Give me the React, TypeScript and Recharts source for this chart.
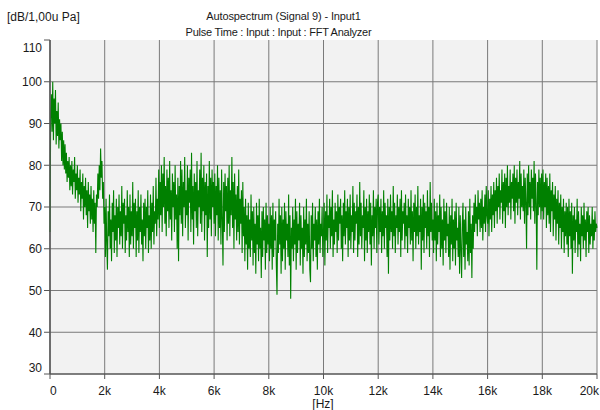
import { LineChart, Line, XAxis, YAxis, CartesianGrid } from "recharts";

// autospectrum levels in dB, one sample every 25 Hz, split per 2 kHz band
const FREQ_STEP = 25;

const band0to2k = [
  64, 92, 97, 88, 100, 86, 96, 90, 98, 85, 93, 87, 95, 84, 91, 86, 90,
  81, 88, 80, 86, 79, 85, 78,
  83, 76, 81, 77, 82, 74, 80, 75, 81, 73, 79, 76, 82, 72, 78, 74,
  80, 71, 77, 73, 79, 69, 76, 72, 78, 67, 75, 70, 77, 68, 74, 65, 76, 69, 73, 66,
  75, 67, 72, 64, 74, 66, 71, 59,
  73, 70, 78, 72, 80, 74, 84, 77,
  81, 72, 76, 66,
];
const band2to4k = [
  70, 58, 72, 61, 55, 69, 63, 73, 60, 67, 57, 71, 64, 74, 59, 68, 62, 72, 58, 70,
  65, 73, 61, 69, 63, 75, 60, 71, 66, 72, 59, 68, 62, 74, 64, 70, 58, 73, 61, 69,
  63, 76, 60, 71, 65, 72, 58, 69, 62, 74, 59, 70, 64, 73, 61, 67, 57, 71, 63, 72,
  60, 70, 65, 74, 59, 68, 62, 73, 60, 71, 64, 75, 61, 69, 66, 77, 63, 72, 67, 79,
];
const band4to6k = [
  65, 76, 68, 80, 64, 78, 70, 82, 66, 75, 63, 79, 69, 77, 65, 81, 67, 74, 62, 78,
  70, 76, 64, 80, 67, 73, 60, 77, 57, 75, 68, 81, 66, 79, 63, 76, 70, 82, 65, 74,
  68, 80, 62, 77, 71, 79, 64, 83, 67, 75, 61, 78, 69, 76, 65, 81, 63, 74, 70, 79,
  66, 83, 64, 77, 69, 80, 62, 76, 68, 78, 58, 75, 65, 81, 67, 77, 63, 79, 70, 76,
];
const band6to8k = [
  66, 78, 63, 75, 68, 80, 62, 77, 65, 74, 61, 79, 67, 56, 76, 64, 78, 69, 75, 62,
  77, 66, 80, 63, 74, 68, 82, 65, 76, 60, 78, 67, 73, 62, 75, 64, 79, 61, 72, 66,
  74, 59, 76, 63, 70, 57, 72, 61, 68, 55, 71, 60, 67, 58, 73, 62, 69, 56, 70, 59,
  66, 54, 71, 61, 68, 57, 72, 60, 65, 53, 69, 58, 70, 62, 67, 55, 71, 59, 68, 61,
];
const band8to10k = [
  66, 57, 70, 60, 68, 55, 71, 58, 67, 62, 69, 56, 49, 66, 59, 72, 61, 68, 54, 70,
  57, 67, 60, 71, 55, 69, 62, 66, 58, 73, 56, 68, 48, 65, 60, 70, 57, 67, 61, 72,
  55, 69, 59, 66, 62, 71, 56, 68, 60, 65, 54, 70, 58, 67, 61, 72, 57, 66, 59, 69,
  55, 52, 68, 60, 71, 57, 66, 62, 70, 58, 67, 55, 69, 61, 72, 59, 66, 63, 70, 58,
];
const band10to12k = [
  64, 71, 56, 69, 62, 73, 59, 68, 65, 72, 60, 70, 63, 74, 58, 67, 61, 71, 64, 69,
  59, 73, 62, 70, 66, 72, 60, 68, 57, 71, 63, 74, 61, 69, 65, 72, 58, 70, 62, 73,
  60, 68, 64, 75, 59, 71, 62, 69, 66, 73, 58, 70, 61, 76, 63, 71, 60, 68, 65, 74,
  57, 70, 62, 72, 59, 69, 64, 73, 61, 71, 56, 68, 63, 74, 60, 70, 65, 72, 59, 71,
];
const band12to14k = [
  73, 61, 70, 64, 72, 59, 69, 63, 74, 60, 71, 65, 68, 58, 72, 54, 70, 62, 73, 64,
  69, 60, 75, 63, 71, 59, 68, 65, 73, 61, 70, 64, 72, 58, 74, 62, 69, 66, 71, 60,
  73, 63, 68, 59, 72, 65, 70, 61, 74, 62, 69, 57, 71, 64, 73, 60, 70, 63, 75, 61,
  68, 64, 72, 55, 70, 62, 73, 59, 71, 65, 69, 60, 74, 63, 70, 58, 76, 64, 71, 62,
];
const band14to16k = [
  67, 59, 72, 62, 69, 57, 71, 61, 68, 64, 73, 58, 70, 60, 67, 56, 72, 62, 69, 59,
  71, 63, 66, 58, 70, 55, 68, 61, 72, 57, 67, 60, 69, 56, 71, 62, 65, 58, 70, 54,
  68, 60, 53, 66, 71, 58, 67, 55, 70, 61, 64, 57, 69, 56, 72, 59, 66, 53, 68, 60,
  71, 64, 73, 66, 70, 63, 74, 67, 71, 64, 72, 65, 74, 62, 70, 66, 73, 64, 75, 68,
];
const band16to18k = [
  66, 74, 63, 72, 67, 75, 64, 73, 68, 76, 65, 74, 69, 77, 66, 75, 70, 78, 67, 74,
  71, 79, 66, 76, 69, 78, 65, 77, 70, 80, 68, 75, 71, 79, 67, 76, 72, 78, 69, 80,
  66, 77, 71, 79, 68, 76, 72, 81, 67, 78, 70, 75, 69, 79, 66, 77, 71, 60, 78, 68,
  80, 70, 76, 67, 79, 72, 77, 69, 81, 66, 78, 71, 55, 76, 68, 79, 70, 77, 67, 78,
];
const band18to20k = [
  69, 79, 67, 76, 70, 78, 65, 77, 68, 75, 66, 78, 64, 74, 69, 76, 63, 73, 67, 75,
  62, 72, 66, 74, 61, 71, 65, 73, 60, 70, 64, 72, 59, 69, 63, 71, 61, 70, 58, 72,
  63, 69, 60, 71, 54, 68, 62, 70, 59, 67, 64, 72, 58, 69, 61, 66, 57, 70, 63, 68,
  60, 71, 62, 67, 58, 69, 64, 70, 59, 68, 61, 66, 63, 70, 60, 67, 62, 69, 64, 66,
  65,
];

const xTicks = [0, 2000, 4000, 6000, 8000, 10000, 12000, 14000, 16000, 18000, 20000];
const xTickLabels = ["0", "2k", "4k", "6k", "8k", "10k", "12k", "14k", "16k", "18k", "20k"];
const yTicks = [30, 40, 50, 60, 70, 80, 90, 100, 110];
const gridLevels = [40, 50, 60, 70, 80, 90, 100];

const levels = [
  ...band0to2k,
  ...band2to4k,
  ...band4to6k,
  ...band6to8k,
  ...band8to10k,
  ...band10to12k,
  ...band12to14k,
  ...band14to16k,
  ...band16to18k,
  ...band18to20k,
];
const data = levels.map((db, i) => ({ freq: i * FREQ_STEP, db }));

const font = "'Liberation Sans', Arial, sans-serif";
const tickStyle = { fontSize: 12, fill: "#1a1a1a", fontFamily: font };

// first and last labels are pulled inside the plot edges
const XTick = (props: any) => {
  const { x, y, payload } = props;
  const i = xTicks.indexOf(payload.value);
  const last = i === xTicks.length - 1;
  const anchor = i === 0 ? "start" : last ? "end" : "middle";
  return (
    <text x={last ? x + 2 : x} y={y} dy="0.71em" textAnchor={anchor} {...tickStyle}>
      {xTickLabels[i]}
    </text>
  );
};

const YTick = (props: any) => {
  const { x, y, payload } = props;
  const shift = payload.value === 110 ? 8 : payload.value === 30 ? -6 : 0;
  return (
    <text x={x} y={y + shift} dy="0.355em" textAnchor="end" {...tickStyle}>
      {payload.value}
    </text>
  );
};

export default function App() {
  return (
    <div
      style={{
        position: "absolute",
        left: 0,
        top: 0,
        width: 600,
        height: 410,
        background: "#fff",
        fontFamily: font,
        color: "#1a1a1a",
      }}
    >
      <div style={{ position: "absolute", left: 7, top: 10, fontSize: 12, lineHeight: "14px" }}>
        [dB/1,00u Pa]
      </div>
      <div
        style={{
          position: "absolute",
          left: 0,
          width: 567,
          top: 10,
          textAlign: "center",
          fontSize: 11,
          lineHeight: "13px",
          letterSpacing: -0.12,
        }}
      >
        Autospectrum (Signal 9) - Input1
      </div>
      <div
        style={{
          position: "absolute",
          left: 0,
          width: 557,
          top: 26,
          textAlign: "center",
          fontSize: 11,
          lineHeight: "13px",
          letterSpacing: -0.25,
        }}
      >
        Pulse Time : Input : Input : FFT Analyzer
      </div>
      <div
        style={{
          position: "absolute",
          left: 0,
          width: 646,
          top: 398,
          textAlign: "center",
          fontSize: 12,
          lineHeight: "12px",
        }}
      >
        [Hz]
      </div>
      <LineChart
        width={600}
        height={410}
        data={data}
        margin={{ top: 40, right: 3, left: 0, bottom: 0 }}
        style={{ position: "absolute", left: 0, top: 0 }}
      >
        <CartesianGrid
          fill="#f2f2f2"
          stroke="#7a7a7a"
          strokeWidth={1}
          horizontalValues={gridLevels}
          verticalValues={xTicks}
        />
        <XAxis
          dataKey="freq"
          type="number"
          domain={[0, 20000]}
          ticks={xTicks}
          interval={0}
          height={36}
          tickSize={5}
          tickMargin={7}
          tick={<XTick />}
          axisLine={{ stroke: "#555", strokeWidth: 1.5 }}
          tickLine={{ stroke: "#555" }}
        />
        <YAxis
          type="number"
          domain={[30, 110]}
          ticks={yTicks}
          interval={0}
          width={50}
          tickSize={6}
          tickMargin={2}
          tick={<YTick />}
          axisLine={{ stroke: "#555", strokeWidth: 1.5 }}
          tickLine={{ stroke: "#555" }}
        />
        <Line
          type="linear"
          dataKey="db"
          stroke="#008000"
          strokeWidth={1.1}
          dot={false}
          isAnimationActive={false}
        />
      </LineChart>
    </div>
  );
}
